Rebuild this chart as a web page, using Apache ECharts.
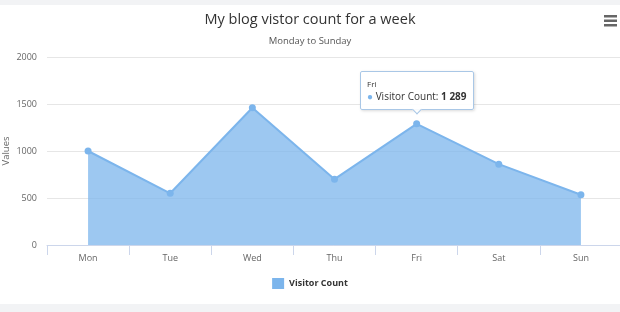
<!DOCTYPE html>
<html><head><meta charset="utf-8">
<script src="https://cdn.jsdelivr.net/npm/echarts@6/dist/echarts.min.js"></script>
<style>html,body{margin:0;padding:0;background:#f2f3f5;overflow:hidden;}#c{width:620px;height:312px;}</style>
</head><body><div id="c"></div>
<script>
const categories = ['Mon','Tue','Wed','Thu','Fri','Sat','Sun'];
const visitorCount = [1000, 550, 1460, 700, 1289, 860, 535];
const yTicks = [0, 500, 1000, 1500, 2000];
const seriesName = 'Visitor Count';
const titleText = 'My blog vistor count for a week';
const subtitleText = 'Monday to Sunday';
const FONT = '"Open Sans", sans-serif';

function fmt(v){ return String(v).replace(/\B(?=(\d{3})+(?!\d))/g, ' '); }

const chart = echarts.init(document.getElementById('c'), null, {renderer:'canvas'});
chart.setOption({
  backgroundColor: '#f2f3f5',
  animation: false,
  textStyle: {fontFamily: FONT},
  graphic: [
    {type:'rect', shape:{x:0,y:5,width:620,height:299}, style:{fill:'#ffffff'}, z:-10, silent:true},
    {type:'rect', shape:{x:604,y:15,width:13,height:2.5}, style:{fill:'#666'}},
    {type:'rect', shape:{x:604,y:19.5,width:13,height:2.5}, style:{fill:'#666'}},
    {type:'rect', shape:{x:604,y:24,width:13,height:2.5}, style:{fill:'#666'}}
  ],
  title: {
    text: titleText, subtext: subtitleText, left: 'center', top: 7, itemGap: 9,
    textStyle: {fontFamily: FONT, fontSize: 14.5, fontWeight: 'normal', color: '#333'},
    subtextStyle: {fontFamily: FONT, fontSize: 9.5, color: '#555'}
  },
  legend: {
    data: [seriesName], top: 273, left: 'center', icon: 'rect', itemWidth: 12, itemHeight: 11, itemGap: 5,
    textStyle: {fontFamily: FONT, fontSize: 9, fontWeight: 'bold', color: '#333'}
  },
  tooltip: {
    trigger: 'item', position: 'top', alwaysShowContent: true, showDelay: 0, transitionDuration: 0,
    backgroundColor: 'rgba(255,255,255,0.9)', borderColor: '#a9c7e6', borderWidth: 1, padding: [6, 6],
    extraCssText: 'box-shadow:1px 1px 3px rgba(0,0,0,0.15);border-radius:2px;',
    textStyle: {fontFamily: FONT, fontSize: 10, color: '#333'},
    formatter: p => '<div style="font-size:8px;line-height:11px">' + p.name + '</div>' +
      '<div style="line-height:14px"><span style="color:#7cb5ec">\u25CF</span> ' + p.seriesName + ': <b>' + fmt(p.value) + '</b></div>'
  },
  grid: {left: 47, top: 57, width: 575, height: 188, containLabel: false, outerBoundsMode: 'none'},
  xAxis: {
    type: 'category', data: categories, boundaryGap: true,
    axisLine: {lineStyle: {color: '#ccd6eb'}},
    axisTick: {show: true, length: 10, lineStyle: {color: '#ccd6eb'}},
    axisLabel: {color: '#666', fontSize: 9, margin: 9, fontFamily: FONT}
  },
  yAxis: {
    type: 'value', min: yTicks[0], max: yTicks[yTicks.length-1], interval: yTicks[1]-yTicks[0],
    name: 'Values', nameLocation: 'middle', nameGap: 36, nameRotate: 90, nameMoveOverlap: false,
    nameTextStyle: {color: '#666', fontSize: 9.5, fontFamily: FONT},
    axisLine: {show: false}, axisTick: {show: false},
    axisLabel: {color: '#666', fontSize: 9, margin: 10, fontFamily: FONT, formatter: v => String(v)},
    splitLine: {lineStyle: {color: '#e6e6e6'}}
  },
  series: [{
    name: seriesName, type: 'line', data: visitorCount,
    symbol: 'circle', symbolSize: 7, showAllSymbol: true,
    itemStyle: {color: '#7cb5ec'},
    lineStyle: {color: '#7cb5ec', width: 2},
    areaStyle: {color: 'rgba(124,181,236,0.75)', opacity: 1}
  }]
});
chart.dispatchAction({type: 'showTip', seriesIndex: 0, dataIndex: 4});
</script></body></html>
